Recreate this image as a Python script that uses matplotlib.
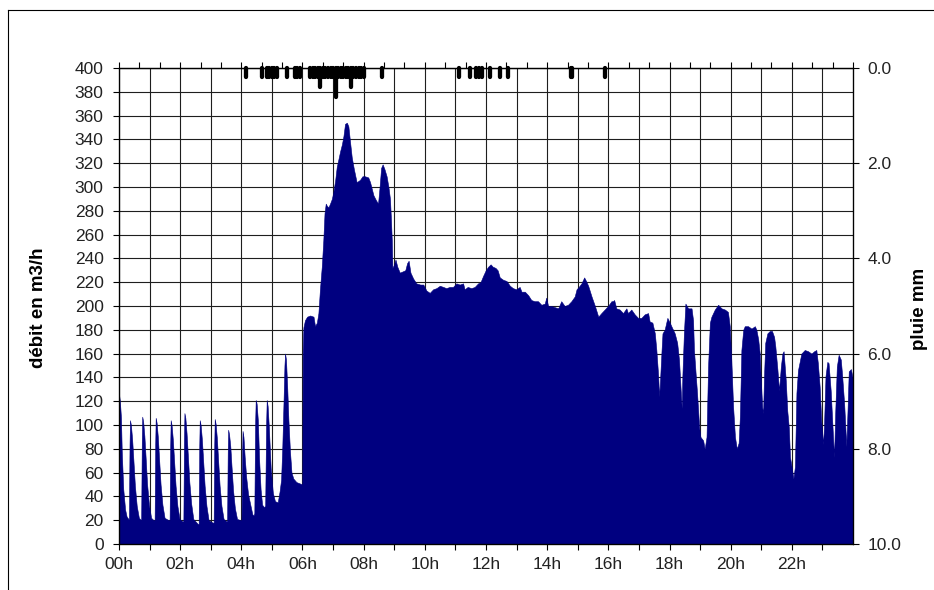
import matplotlib
matplotlib.use("Agg")
import matplotlib.pyplot as plt
from matplotlib.lines import Line2D
import numpy as np

plt.rcParams['font.family'] = ['Liberation Sans', 'DejaVu Sans']

# flow (m3/h), breakpoints in decimal hours
night_t = [0.00, 0.03, 0.065, 0.09, 0.11, 0.14, 0.20, 0.25, 0.31,
           0.325, 0.345, 0.36, 0.39, 0.43, 0.47, 0.52, 0.58, 0.65, 0.72,
           0.725, 0.745, 0.76, 0.79, 0.83, 0.87, 0.92, 0.98, 1.05, 1.13,
           1.165, 1.185, 1.20, 1.23, 1.27, 1.31, 1.36, 1.42, 1.49, 1.62,
           1.655, 1.675, 1.69, 1.72, 1.76, 1.80, 1.85, 1.91, 1.98, 2.07,
           2.105, 2.125, 2.14, 2.17, 2.21, 2.25, 2.30, 2.36, 2.43, 2.57,
           2.605, 2.625, 2.64, 2.67, 2.71, 2.75, 2.80, 2.86, 2.93, 3.06,
           3.095, 3.115, 3.13, 3.16, 3.20, 3.24, 3.29, 3.35, 3.42, 3.51,
           3.535, 3.555, 3.57, 3.60, 3.64, 3.68, 3.73, 3.79, 3.86, 3.98,
           4.005, 4.025, 4.04, 4.07, 4.11, 4.16, 4.22, 4.31, 4.36, 4.40,
           4.425, 4.45, 4.47, 4.50, 4.54, 4.58, 4.63, 4.68, 4.74,
           4.78, 4.81, 4.83, 4.86, 4.90, 4.96, 5.03, 5.10, 5.19,
           5.25, 5.30, 5.34, 5.38, 5.41, 5.43, 5.46, 5.50, 5.54, 5.59,
           5.64, 5.70, 5.80, 5.90, 5.995]
night_q = [126, 120, 106, 78, 65, 46, 29, 23, 21,
           21, 84, 104, 100, 88, 71, 49, 32, 22, 20,
           20, 86, 107, 103, 91, 73, 50, 33, 22, 20,
           20, 85, 106, 102, 90, 72, 50, 33, 22, 20,
           20, 83, 104, 100, 88, 71, 49, 32, 21, 19,
           19, 88, 110, 106, 93, 75, 52, 34, 21, 17,
           17, 83, 104, 100, 88, 71, 49, 32, 20, 18,
           18, 84, 105, 101, 89, 71, 49, 32, 21, 19,
           19, 77, 96, 92, 82, 65, 45, 30, 21, 20,
           20, 76, 95, 90, 73, 56, 42, 31, 25, 24,
           26, 100, 121, 118, 104, 72, 46, 33, 31,
           32, 100, 121, 116, 98, 64, 43, 36, 35,
           44, 54, 82, 120, 150, 160, 155, 132, 104, 78,
           60, 55, 52, 51, 50]

morning_t = [6.005, 6.03, 6.08, 6.15, 6.25, 6.36, 6.41, 6.47, 6.52, 6.57,
             6.63, 6.68, 6.72, 6.76, 6.80, 6.85, 6.90, 6.96, 7.01, 7.07,
             7.12, 7.18, 7.23, 7.29, 7.34, 7.39, 7.45, 7.50, 7.55, 7.61,
             7.68, 7.77, 7.88, 7.96, 8.04, 8.15, 8.21, 8.27, 8.32, 8.40,
             8.47, 8.52, 8.57, 8.62, 8.68, 8.75, 8.81, 8.86, 8.89, 8.92,
             8.94]
morning_q = [160, 182, 188, 191, 192, 191, 183, 186, 194, 214,
             233, 255, 278, 286, 284, 283, 286, 290, 296, 306,
             317, 324, 330, 336, 343, 353, 354, 351, 339, 325,
             315, 304, 306, 309, 309, 308, 304, 298, 293, 289,
             286, 300, 316, 319, 315, 309, 300, 290, 274, 255,
             232]

day_t = [8.98, 9.04, 9.10, 9.18, 9.27, 9.36, 9.42, 9.47, 9.53, 9.62,
         9.72, 9.85, 9.95, 10.05, 10.16, 10.27, 10.38, 10.49, 10.60, 10.70,
         10.81, 10.92, 11.03, 11.14, 11.25, 11.30, 11.40, 11.52, 11.63, 11.74,
         11.82, 11.90, 11.99, 12.07, 12.15, 12.22, 12.31, 12.38, 12.45, 12.56,
         12.67, 12.78, 12.88, 12.99, 13.10, 13.16, 13.27, 13.38, 13.48, 13.59,
         13.70, 13.81, 13.92, 13.97, 14.03, 14.14, 14.25, 14.36, 14.46, 14.57,
         14.68, 14.79, 14.90, 14.96, 15.03, 15.12, 15.21, 15.27, 15.34, 15.45,
         15.56, 15.67, 15.77, 15.88, 15.99, 16.10, 16.15, 16.19, 16.26, 16.37,
         16.48, 16.59, 16.64, 16.75, 16.86, 16.97, 17.08, 17.19, 17.30]
day_q = [234, 239, 233, 228, 229, 230, 236, 238, 228, 223,
         219, 218, 218, 213, 211, 214, 215, 217, 216, 215,
         216, 216, 219, 218, 219, 214, 216, 215, 216, 219,
         220, 225, 230, 233, 235, 233, 232, 230, 224, 222,
         221, 217, 215, 214, 216, 212, 212, 209, 205, 204,
         204, 201, 202, 207, 200, 200, 199, 198, 204, 200,
         201, 204, 208, 214, 216, 219, 224, 221, 217, 208,
         200, 191, 194, 197, 200, 204, 204, 205, 198, 197,
         194, 198, 194, 197, 193, 190, 190, 193, 194]

evening_t = [17.35, 17.44, 17.52, 17.57, 17.63, 17.66, 17.68, 17.74, 17.77, 17.84,
             17.93, 17.99, 18.06, 18.17, 18.25, 18.31, 18.37, 18.40, 18.42, 18.47,
             18.52, 18.61, 18.72, 18.77, 18.80, 18.86, 18.90, 18.97, 19.01, 19.10,
             19.15, 19.21, 19.26, 19.32, 19.37, 19.48, 19.59, 19.70, 19.81, 19.91,
             19.97, 20.02, 20.08, 20.14, 20.20, 20.26, 20.30, 20.35, 20.41, 20.46,
             20.57, 20.68, 20.79, 20.84, 20.90, 20.95, 20.98, 21.03, 21.06, 21.09,
             21.13, 21.20, 21.28, 21.35, 21.42, 21.46, 21.53, 21.58, 21.64, 21.69,
             21.73, 21.80, 21.85, 21.90, 21.94, 22.01, 22.05, 22.10, 22.15, 22.20,
             22.31, 22.42, 22.53, 22.64, 22.73, 22.80, 22.85, 22.91, 22.96, 23.02,
             23.05, 23.10, 23.16, 23.20, 23.27, 23.33, 23.38, 23.42, 23.47, 23.53,
             23.60, 23.64, 23.71, 23.75, 23.78, 23.82, 23.86, 23.93, 24.00]
evening_q = [187, 186, 177, 163, 141, 124, 132, 163, 177, 180,
             190, 187, 183, 177, 169, 155, 127, 114, 141, 177,
             202, 198, 198, 188, 163, 141, 127, 98, 90, 87,
             80, 90, 149, 186, 191, 197, 201, 198, 197, 195,
             183, 155, 115, 90, 80, 85, 107, 163, 180, 183,
             183, 181, 183, 180, 172, 160, 141, 115, 110, 141,
             169, 177, 179, 179, 174, 166, 146, 129, 149, 160,
             162, 138, 112, 98, 73, 62, 55, 65, 127, 146,
             160, 163, 162, 160, 162, 163, 152, 132, 104, 84,
             98, 141, 153, 152, 129, 98, 73, 112, 149, 159,
             155, 143, 118, 98, 82, 112, 145, 147, 138]

# rain gauge (mm per record)
rain_clock = ['04:10', '04:40', '04:50', '04:55', '05:00', '05:05', '05:10',
              '05:30', '05:45', '05:50', '05:55',
              '06:15', '06:20', '06:25', '06:30', '06:35', '06:40', '06:45',
              '06:50', '06:55', '07:00', '07:05', '07:10', '07:15', '07:20',
              '07:25', '07:30', '07:35', '07:40', '07:45', '07:50', '07:55',
              '08:00', '08:35',
              '11:07', '11:28', '11:41', '11:47', '11:52', '12:07', '12:27',
              '12:44', '14:46', '14:48', '15:53']
rain_mm = [0.2, 0.2, 0.2, 0.2, 0.2, 0.2, 0.2,
           0.2, 0.2, 0.2, 0.2,
           0.2, 0.2, 0.2, 0.2, 0.4, 0.2, 0.2,
           0.2, 0.2, 0.2, 0.6, 0.2, 0.2, 0.2,
           0.2, 0.2, 0.4, 0.2, 0.2, 0.2, 0.2,
           0.2, 0.2,
           0.2, 0.2, 0.2, 0.2, 0.2, 0.2, 0.2,
           0.2, 0.2, 0.2, 0.2]

hour_labels = ['00h', '02h', '04h', '06h', '08h', '10h',
               '12h', '14h', '16h', '18h', '20h', '22h']

t = np.concatenate([night_t, morning_t, day_t, evening_t])
q = np.concatenate([night_q, morning_q, day_q, evening_q])
rain_h = [int(s[:2]) + int(s[3:]) / 60 for s in rain_clock]

fig = plt.figure(figsize=(9.34, 5.9), dpi=100)
ax = fig.add_axes([0.1274, 0.078, 0.7859, 0.8068])

ax.fill_between(t, 0, q, color='#000080', lw=0.4, zorder=2)

ax.set_xlim(0, 24)
ax.set_ylim(0, 400)
ax.set_yticks(np.arange(0, 401, 20))
ax.set_xticks(np.arange(0, 24, 2))
ax.set_xticklabels(hour_labels)
ax.set_xticks(np.arange(1, 24, 2), minor=True)
ax.set_axisbelow(True)
ax.grid(True, which='both', color='#1e1e1e', lw=0.8)
ax.tick_params(which='both', direction='out', length=4, width=0.8,
               labelsize=12.5, color='black', labelcolor='#222222')
ax.tick_params(axis='y', pad=7)
ax.tick_params(axis='x', pad=5.5)
for s in ax.spines.values():
    s.set_linewidth(0.9)

# top axis ticks every 40 minutes
top = ax.secondary_xaxis('top')
top.set_xticks(np.arange(0, 24.01, 2 / 3))
top.set_xticklabels([])
top.tick_params(direction='out', length=4, width=0.8)

ax2 = ax.twinx()
ax2.set_ylim(10, 0)
ax2.set_yticks(np.arange(0, 10.1, 2))
ax2.set_yticklabels(['%.1f' % v for v in np.arange(0, 10.1, 2)])
ax2.tick_params(direction='out', length=4, width=0.8, labelsize=12.5,
                labelcolor='#222222', pad=6.5)
bars = ax2.vlines(rain_h, 0, rain_mm, colors='black', lw=3.1, clip_on=False)
bars.set_capstyle('round')

fig.text(0.0407, 0.479, 'débit en m3/h', rotation=90, ha='center', va='center',
         fontsize=13.5, fontweight='bold')
fig.text(0.985, 0.476, 'pluie mm', rotation=90, ha='center', va='center',
         fontsize=13.5, fontweight='bold')

# chart area border
fig.add_artist(Line2D([8 / 934, 8 / 934], [0, 1 - 10 / 590], color='black', lw=0.8))
fig.add_artist(Line2D([8 / 934, 1], [1 - 10 / 590, 1 - 10 / 590], color='black', lw=0.8))

fig.savefig('out.png', dpi=100)
